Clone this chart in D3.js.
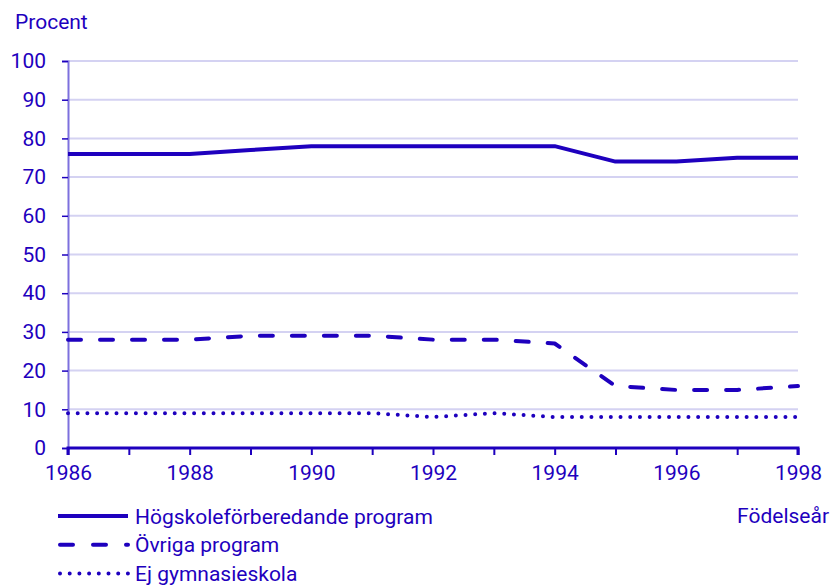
<!DOCTYPE html>
<html>
<script src="https://d3js.org/d3.v7.min.js"></script>
<style>
  body { margin: 0; background: #fff; }
  text { font-family: Roboto, sans-serif; fill: #1e00be; }
</style>
<body>
<svg id="chart" width="830" height="586"></svg>
<script>
    const years = [1986, 1987, 1988, 1989, 1990, 1991, 1992, 1993, 1994, 1995, 1996, 1997, 1998];
    const hogskole = [76, 76, 76, 77, 78, 78, 78, 78, 78, 74, 74, 75, 75];
    const ovriga = [28, 28, 28, 29, 29, 29, 28, 28, 27, 16, 15, 15, 16];
    const ejGymnasie = [9, 9, 9, 9, 9, 9, 8, 9, 8, 8, 8, 8, 8];
    const yTicks = [0, 10, 20, 30, 40, 50, 60, 70, 80, 90, 100];
    const xLabels = [1986, 1988, 1990, 1992, 1994, 1996, 1998];

    const series = [
        {name: "Högskoleförberedande program", values: hogskole, dash: null},
        {name: "Övriga program", values: ovriga, dash: "13,19"},
        {name: "Ej gymnasieskola", values: ejGymnasie, dash: "0,9.7"}
    ];

    const color = "#1e00be";
    const fontSize = 21;
    const svg = d3.select("#chart");

    const x = d3.scaleLinear().domain([1986, 1998]).range([68, 798]);
    const y = d3.scaleLinear().domain([0, 100]).range([448, 61]);

    // grid
    svg.append("g")
        .selectAll("line")
        .data(yTicks.filter(d => d > 0))
        .join("line")
        .attr("x1", x(1986)).attr("x2", x(1998))
        .attr("y1", d => y(d)).attr("y2", d => y(d))
        .attr("stroke", "#d4d2f2").attr("stroke-width", 2);

    // y axis
    const yAxis = svg.append("g")
        .attr("transform", `translate(${x(1986)},0)`)
        .call(d3.axisLeft(y).tickValues(yTicks).tickSize(6).tickPadding(16));
    yAxis.select(".domain").attr("stroke", "#7d70de").attr("stroke-width", 2);
    yAxis.selectAll(".tick line").attr("stroke", color).attr("stroke-width", 1.5);
    yAxis.selectAll(".tick text").attr("font-size", fontSize).attr("fill", color)
        .style("font-family", "Roboto, sans-serif");

    // x axis
    const xAxis = svg.append("g")
        .attr("transform", `translate(0,${y(0)})`)
        .call(d3.axisBottom(x).tickValues(years).tickSize(7).tickPadding(10)
            .tickFormat(d => xLabels.includes(d) ? d : ""));
    xAxis.select(".domain").attr("stroke", color).attr("stroke-width", 3)
        .attr("d", `M${x(1986)},7V0H${x(1998)}V7`);
    xAxis.selectAll(".tick line").attr("stroke", color).attr("stroke-width", 2);
    xAxis.selectAll(".tick text").attr("font-size", fontSize).attr("fill", color)
        .style("font-family", "Roboto, sans-serif");

    // lines
    const line = d3.line().x((d, i) => x(years[i])).y(d => y(d));
    svg.append("g")
        .selectAll("path")
        .data(series)
        .join("path")
        .attr("d", d => line(d.values))
        .attr("fill", "none")
        .attr("stroke", color)
        .attr("stroke-width", 4)
        .attr("stroke-linecap", d => d.dash ? "round" : "butt")
        .attr("stroke-linejoin", "round")
        .attr("stroke-dasharray", d => d.dash);

    // titles
    svg.append("text").attr("x", 15).attr("y", 29).attr("font-size", fontSize).text("Procent");
    svg.append("text").attr("x", 829).attr("y", 523).attr("font-size", fontSize)
        .attr("text-anchor", "end").text("Födelseår");

    // legend
    const legend = svg.append("g")
        .selectAll("g")
        .data(series)
        .join("g")
        .attr("transform", (d, i) => `translate(58,${516 + i * 28.8})`);
    legend.append("line")
        .attr("x1", d => d.dash ? 2 : 0).attr("x2", 70)
        .attr("stroke", color).attr("stroke-width", 4)
        .attr("stroke-linecap", d => d.dash ? "round" : "butt")
        .attr("stroke-dasharray", d => d.dash === "13,19" ? "13,20" : d.dash);
    legend.append("text")
        .attr("x", 77).attr("y", 7.5).attr("font-size", fontSize)
        .text(d => d.name);
</script>
</body>
</html>
